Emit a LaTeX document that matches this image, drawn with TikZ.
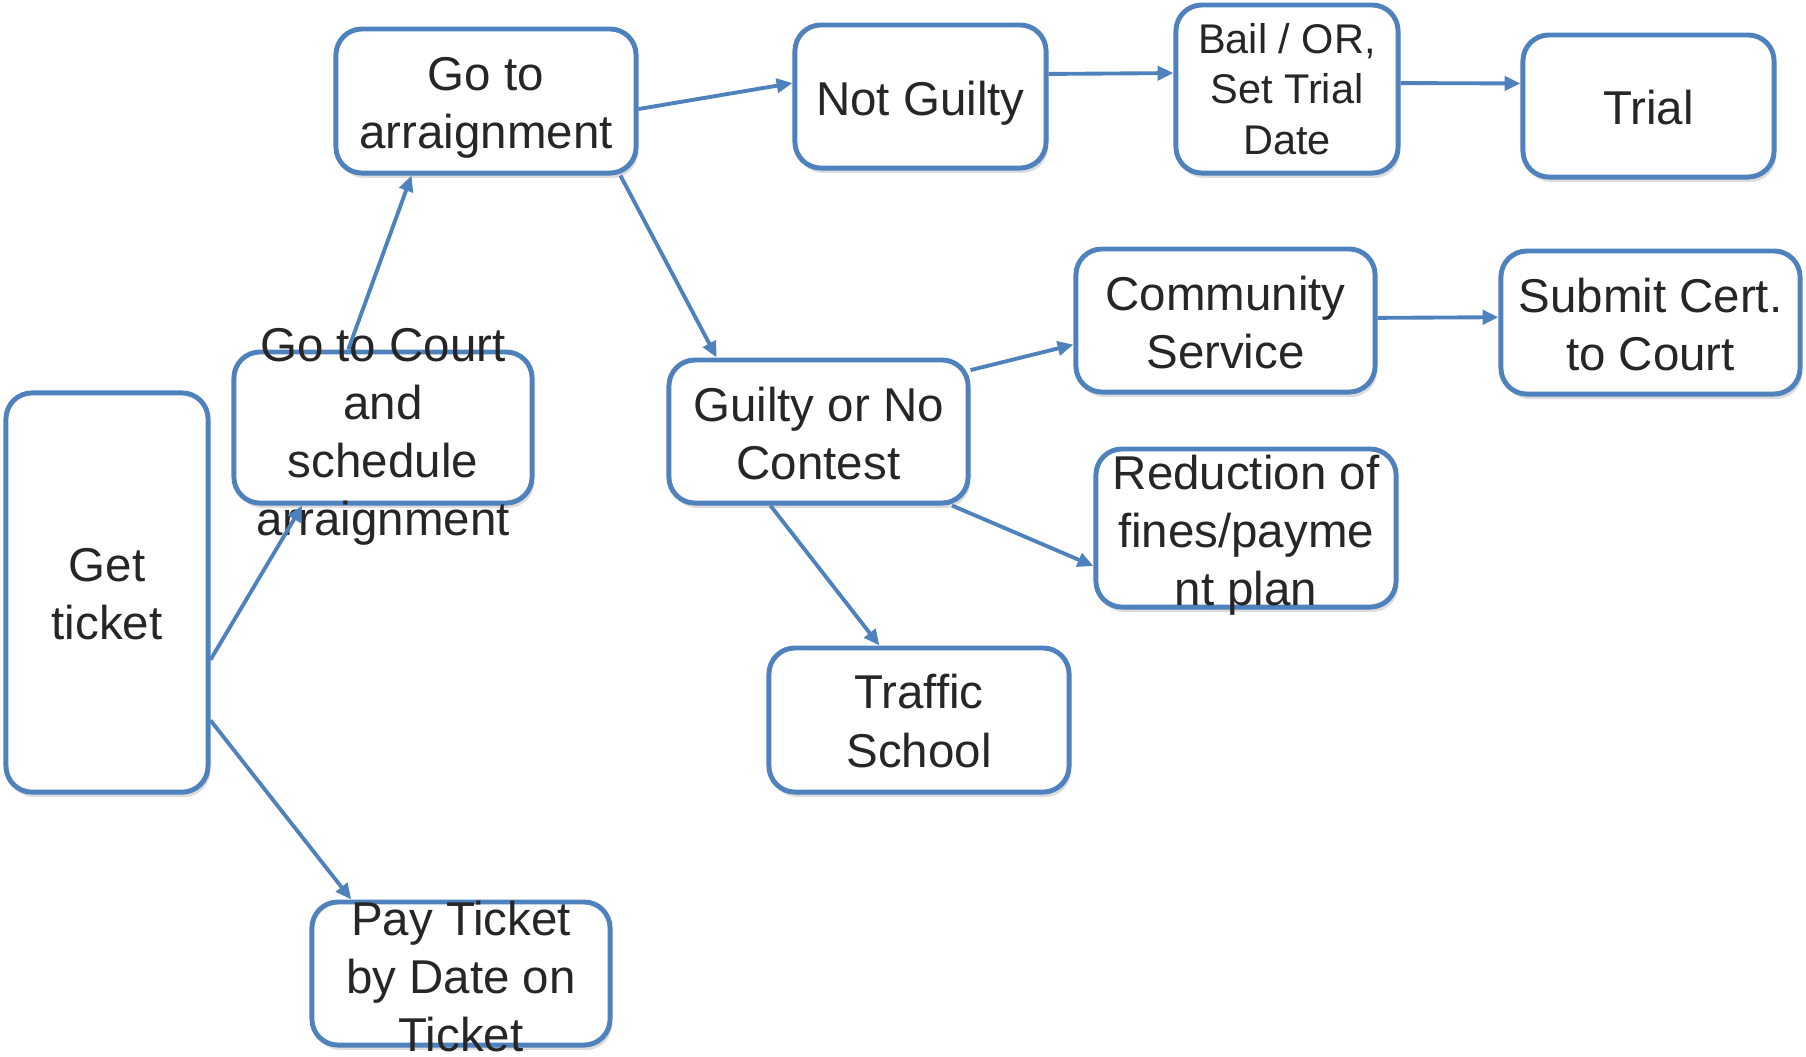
\documentclass[tikz,border=0pt]{standalone}
\usepackage{fontspec}
\setmainfont{Liberation Sans}
\usetikzlibrary{arrows.meta,shadows}
\definecolor{boxblue}{RGB}{79,129,189}
\definecolor{txtgray}{RGB}{38,38,38}

\begin{document}
\begin{tikzpicture}[x=0.01cm,y=-0.01cm,
		stepbox/.style={draw=boxblue,line width=1.4pt,rounded corners=0.26cm,fill=white,
			drop shadow={shadow xshift=0.6pt,shadow yshift=-1.4pt,opacity=0.28},
			inner sep=0pt},
		boxtext/.style={text=txtgray,align=center,inner sep=0pt,yshift=-0.02cm,
			font=\fontsize{13.5}{16.5}\selectfont},
		link/.style={-{Triangle[length=4.5pt,width=4pt]},line width=1.1pt,draw=boxblue}]
		\useasboundingbox (0,0) rectangle (1806,1056);

		% boxes
		\node[stepbox,minimum width=2.02cm,minimum height=3.99cm,
			label={[boxtext]center:{Get\\ticket}}] (ticket) at (107,592.5) {};
		\node[stepbox,minimum width=2.98cm,minimum height=1.51cm,
			label={[boxtext,yshift=-0.07cm]center:{Go to Court\\and\\schedule\\arraignment}}] (court) at (383,427.5) {};
		\node[stepbox,minimum width=3.00cm,minimum height=1.44cm,
			label={[boxtext,yshift=-0.05cm]center:{Go to\\arraignment}}] (arraign) at (486,101) {};
		\node[stepbox,minimum width=2.51cm,minimum height=1.43cm,
			label={[boxtext,yshift=-0.05cm]center:{Not Guilty}}] (notguilty) at (920.5,96.5) {};
		\node[stepbox,minimum width=2.22cm,minimum height=1.68cm,
			label={[boxtext,yshift=0.02cm,font=\fontsize{11.8}{14.4}\selectfont]center:{Bail / OR,\\Set Trial\\Date}}] (bail) at (1287,89) {};
		\node[stepbox,minimum width=2.51cm,minimum height=1.42cm,
			label={[boxtext]center:{Trial}}] (trial) at (1648.5,106) {};
		\node[stepbox,minimum width=2.99cm,minimum height=1.43cm,
			label={[boxtext]center:{Guilty or No\\Contest}}] (guilty) at (818.5,431.5) {};
		\node[stepbox,minimum width=2.99cm,minimum height=1.43cm,
			label={[boxtext]center:{Community\\Service}}] (community) at (1225.5,320.5) {};
		\node[stepbox,minimum width=2.99cm,minimum height=1.43cm,
			label={[boxtext]center:{Submit Cert.\\to Court}}] (submit) at (1650.5,322.5) {};
		\node[stepbox,minimum width=3.00cm,minimum height=1.58cm,
			label={[boxtext,yshift=-0.05cm]center:{Reduction of\\fines/payme\\nt plan}}] (reduction) at (1246,528) {};
		\node[stepbox,minimum width=3.00cm,minimum height=1.44cm,
			label={[boxtext,yshift=0.01cm]center:{Traffic\\School}}] (traffic) at (919,720) {};
		\node[stepbox,minimum width=2.98cm,minimum height=1.43cm,
			label={[boxtext,yshift=-0.01cm]center:{Pay Ticket\\by Date on\\Ticket}}] (pay) at (461,973.5) {};

		% arrows
		\draw[link] (ticket.-33.8) -- (court.-136.4);
		\draw[link] (ticket.-51.4) -- (pay.146.3);
		\draw[link] (court.114) -- (arraign.-135);
		\draw[link] (arraign.-3) -- (notguilty.174);
		\draw[link] (arraign.-29.6) -- (guilty.144.5);
		\draw[link] (notguilty.10.2) -- (bail.172.3);
		\draw[link] (bail.3.1) -- (trial.170.5);
		\draw[link] (guilty.22.7) -- (community.-171.8);
		\draw[link] (community.1.3) -- (submit.178);
		\draw[link] (guilty.-29.1) -- (reduction.-166.5);
		\draw[link] (guilty.-123.3) -- (traffic.118.7);
	\end{tikzpicture}
\end{document}
